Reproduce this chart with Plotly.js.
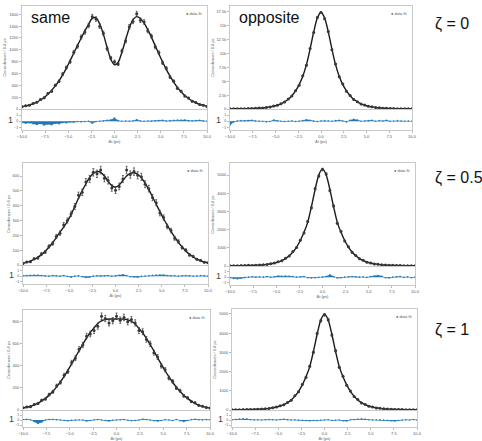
<!DOCTYPE html>
<html><head><meta charset="utf-8">
<script src="https://cdn.plot.ly/plotly-3.0.1.min.js"></script>
<style>html,body{margin:0;padding:0;background:#fff}#chart{width:482px;height:441px}</style>
</head><body><div id="chart"></div>
<script>
// time delay grid (ps)
const dt = [-10,-9.6,-9.2,-8.8,-8.4,-8,-7.6,-7.2,-6.8,-6.4,-6,-5.6,-5.2,-4.8,-4.4,-4,-3.6,-3.2,-2.8,-2.4,-2,-1.6,-1.2,-0.8,-0.4,0,0.4,0.8,1.2,1.6,2,2.4,2.8,3.2,3.6,4,4.4,4.8,5.2,5.6,6,6.4,6.8,7.2,7.6,8,8.4,8.8,9.2,9.6,10];

// zeta = 0, same
const sameZ0Fit  = [40,52,68,90,118,152,195,250,315,390,475,575,690,815,945,1075,1200,1320,1430,1535,1540,1440,1260,1040,840,745,790,960,1170,1370,1510,1560,1530,1450,1340,1210,1070,930,795,670,555,455,365,290,228,178,138,105,80,60,45];
const sameZ0Data = [38,55,64,95,112,160,188,262,300,400,468,590,700,800,960,1060,1215,1300,1410,1560,1520,1400,1280,1020,860,800,760,980,1150,1390,1480,1610,1500,1470,1320,1230,1050,950,780,690,540,470,350,300,220,185,130,110,75,65,42];
const sameZ0Res  = [-0.2,-0.3,-0.25,-0.4,-0.5,-0.35,-0.6,-0.45,-0.55,-0.3,-0.4,-0.2,-0.25,-0.1,-0.15,-0.05,-0.1,-0.05,0,-0.3,-0.05,0,0.05,0.15,0.2,0.5,0.1,0,0.05,0,0.05,0.25,0.05,0,0.05,0,0.05,0.1,0.15,0.05,0.1,0.15,0.2,0.15,0.2,0.1,0.05,0.1,0.15,0.05,0];

// zeta = 0, opposite
const oppZ0Fit  = [30,36,42,50,60,75,95,120,160,210,280,380,500,680,930,1280,1750,2400,3250,4400,5900,8000,10800,13900,16400,17500,16400,13900,10800,8000,5900,4400,3250,2400,1750,1280,930,680,500,380,280,210,160,120,95,75,60,50,42,36,30];
const oppZ0Data = [35,30,48,45,65,70,100,115,170,200,290,370,520,660,950,1250,1800,2350,3300,4300,6000,7900,10900,13800,16500,17400,16300,14000,10700,8100,5800,4500,3200,2450,1700,1300,900,700,480,390,270,220,150,125,90,80,55,52,40,38,28];
const oppZ0Res  = [-0.6,-0.1,0.05,0.1,0.05,0.1,0.15,0.05,0,-0.05,-0.1,-0.05,0.2,0.05,0,-0.05,0,0.05,-0.05,0,0.1,0.25,0.15,0,-0.05,0.05,0.1,0.05,0,0.1,0.15,0.05,-0.1,0.15,0.3,0.2,0,0.05,0.1,0.15,0,0.1,0.05,0.15,0,0.05,0.1,0.05,0,0.05,0];

// zeta = 0.5, same
const sameZ05Fit  = [12,18,26,38,52,70,93,120,150,185,222,255,295,340,395,450,500,548,590,618,630,625,600,565,535,525,540,570,600,618,622,612,588,552,508,460,410,360,312,268,226,188,153,122,95,72,54,40,28,20,14];
const sameZ05Data = [10,20,22,42,48,75,88,125,145,192,215,270,300,345,395,470,490,560,580,625,615,640,585,570,520,505,530,580,640,610,630,605,595,545,515,455,420,350,320,260,232,180,158,118,100,68,58,38,30,18,15];
const sameZ05Res  = [0.05,0.1,0.15,0.2,0.15,0.1,0.05,0,0.1,0.05,0,0.1,-0.05,-0.2,0,0.05,-0.1,-0.25,-0.2,0,0.05,0,0.05,0.1,0,0.05,0.15,0.25,0.1,-0.1,-0.15,-0.2,-0.05,0,0.1,0.15,0.2,0.25,0.2,0.1,0.05,0.1,0,0.05,0.1,0.05,0,0.05,0.1,0.05,0];

// zeta = 0.5, opposite
const oppZ05Fit  = [14,16,18,21,25,30,36,44,55,70,92,122,165,220,300,410,560,770,1040,1400,1850,2400,3250,4200,5000,5350,5000,4200,3250,2400,1850,1400,1040,770,560,410,300,220,165,122,92,70,55,44,36,30,25,21,18,16,14];
const oppZ05Data = [18,12,20,25,22,35,30,48,50,75,88,130,160,230,290,420,550,790,1020,1420,1820,2450,3200,4250,4950,5300,5050,4150,3300,2350,1900,1380,1060,750,580,400,310,210,170,115,95,65,58,38,36,25,27,19,20,14,15];
const oppZ05Res  = [-0.1,-0.25,-0.3,-0.2,-0.05,0,0.05,0,0.05,0,0.1,0,0.05,0.2,0.15,0.2,0.15,0.1,0,0.05,0.1,-0.1,-0.15,-0.1,-0.05,0,0.1,0.4,0.05,-0.15,-0.1,0,0.05,0.1,0.05,0,0.05,-0.05,0.1,0.2,0.3,0.15,-0.1,-0.15,0,0.05,0.1,-0.05,0.05,-0.1,0];

// zeta = 1, same
const sameZ1Fit  = [18,25,34,46,62,82,106,135,170,210,255,305,360,418,478,538,598,655,705,745,785,808,820,825,826,826,826,824,818,805,780,740,700,650,594,535,474,414,356,302,252,207,168,134,105,81,61,45,33,24,17];
const sameZ1Data = [20,28,30,50,58,88,100,140,165,220,250,315,350,430,470,550,590,670,690,720,760,850,830,790,810,850,815,840,800,820,790,720,710,640,600,520,480,400,365,290,260,200,175,128,110,76,65,42,35,22,18];
const sameZ1Res  = [0.1,0.15,0.05,-0.3,-0.7,-0.4,0,0.1,0.15,0.05,0,-0.1,-0.15,-0.05,0,0.05,0,-0.2,-0.1,0.05,0.1,0,-0.1,-0.2,-0.05,0,0.05,0.1,-0.05,-0.15,-0.1,0,0.15,0.1,0,-0.15,-0.2,-0.1,0.05,0,-0.1,0.1,-0.15,-0.3,-0.1,0.1,0.15,0.05,0,0.1,0.05];

// zeta = 1, opposite
const oppZ1Fit  = [13,15,17,20,23,28,34,41,51,65,86,114,154,206,280,383,523,720,972,1310,1730,2245,3040,3930,4680,5000,4680,3930,3040,2245,1730,1310,972,720,523,383,280,206,154,114,86,65,51,41,34,28,23,20,17,15,13];
const oppZ1Data = [10,18,15,22,20,30,32,45,48,70,80,120,150,215,270,390,510,740,950,1330,1700,2280,3000,3980,4650,4950,4700,3900,3080,2220,1750,1290,990,700,540,370,290,200,160,110,90,60,55,38,30,30,20,18,15,16,12];
const oppZ1Res  = [0.05,0.1,0.2,0.25,0.2,0.05,0,0.05,0,0.05,0.1,0.05,0,0.1,0.15,0.05,0,0.05,0,-0.05,-0.1,-0.15,-0.1,-0.15,-0.05,0,0.05,-0.1,-0.05,0,-0.15,-0.2,0.05,0.1,0.2,0.25,0.15,0.05,0,0.05,0.05,0,-0.05,-0.15,-0.2,-0.1,0,0.05,0,0.1,0];

const columnLabels = ["same", "opposite"];
const zetaLabels = ["ζ = 0", "ζ = 0.5", "ζ = 1"];
const xTickVals = [-10, -7.5, -5, -2.5, 0, 2.5, 5, 7.5, 10];
const resTickVals = [-1, 0, 1];
const legendText = "● data fit";
const yTitle = "Coincidences / 0.4 ps";
const xTitle = "Δt (ps)";

// layout (pixel boxes: left, right, mainTop, mainBottom, resTop, resBottom)
const panels = [
  {fit: sameZ0Fit,  data: sameZ0Data,  res: sameZ0Res,  box: [22, 207, 6, 109, 110, 130],  yMax: 1740,  dtick: 200},
  {fit: oppZ0Fit,   data: oppZ0Data,   res: oppZ0Res,   box: [230, 412, 6, 109, 110, 130], yMax: 18580, dtick: 2500},
  {fit: sameZ05Fit, data: sameZ05Data, res: sameZ05Res, box: [23, 208, 163, 265, 266, 284], yMax: 688, dtick: 100},
  {fit: oppZ05Fit,  data: oppZ05Data,  res: oppZ05Res,  box: [230, 415, 163, 266, 267, 285], yMax: 5660, dtick: 1000},
  {fit: sameZ1Fit,  data: sameZ1Data,  res: sameZ1Res,  box: [23, 210, 310, 410, 411, 427], yMax: 907, dtick: 200},
  {fit: oppZ1Fit,   data: oppZ1Data,   res: oppZ1Res,   box: [232, 417, 309, 410, 411, 427], yMax: 5255, dtick: 1000}
];

const W = 482, H = 441;
const fx = p => p / W;
const fy = p => 1 - p / H;
const FONT = "Liberation Sans, Arial, sans-serif";
const tickFont = {size: 4, color: "#555", family: FONT};
const frameColor = "#c9c9c9";

const traces = [];
const layout = {
  width: W, height: H, autosize: false,
  margin: {l: 0, r: 0, t: 0, b: 0},
  paper_bgcolor: "#fff", plot_bgcolor: "#fff",
  showlegend: false,
  font: {family: FONT},
  annotations: []
};

panels.forEach((p, i) => {
  const n1 = 2 * i + 1, n2 = 2 * i + 2;
  const xa1 = n1 === 1 ? "x" : "x" + n1, ya1 = n1 === 1 ? "y" : "y" + n1;
  const xa2 = "x" + n2, ya2 = "y" + n2;
  const [L, R, mt, mb, rt, rb] = p.box;

  traces.push({
    x: dt, y: p.fit, type: "scatter", mode: "lines",
    line: {color: "#1a1a1a", width: 1.4, shape: "spline", smoothing: 0.8},
    xaxis: xa1, yaxis: ya1, hoverinfo: "skip"
  });
  traces.push({
    x: dt, y: p.data, type: "scatter", mode: "markers",
    marker: {size: 3, color: "#383838"},
    error_y: {type: "sqrt", visible: true, color: "#383838", thickness: 0.7, width: 1},
    xaxis: xa1, yaxis: ya1
  });
  traces.push({
    x: dt, y: p.res, type: "scatter", mode: "lines+markers",
    fill: "tozeroy", fillcolor: "#1f77b4",
    line: {color: "#1f77b4", width: 0.6},
    marker: {size: 1.6, color: "#1f77b4"},
    xaxis: xa2, yaxis: ya2
  });

  const common = {showline: true, mirror: true, linecolor: frameColor, linewidth: 1, showgrid: false, zeroline: false};

  layout[n1 === 1 ? "xaxis" : "xaxis" + n1] = Object.assign({}, common, {
    domain: [fx(L), fx(R)], anchor: ya1, range: [-10, 10], showticklabels: false, ticks: ""
  });
  layout[n1 === 1 ? "yaxis" : "yaxis" + n1] = Object.assign({}, common, {
    domain: [fy(mb), fy(mt)], anchor: xa1, range: [0, p.yMax], tick0: 0, dtick: p.dtick,
    ticks: "outside", ticklen: 2, tickcolor: "#bbb", tickfont: tickFont,
    title: {text: yTitle, font: {size: 4, color: "#555", family: FONT}, standoff: 2}
  });
  layout["xaxis" + n2] = Object.assign({}, common, {
    domain: [fx(L), fx(R)], anchor: ya2, range: [-10, 10], tickvals: xTickVals, tickformat: ".1f",
    ticks: "outside", ticklen: 2, tickcolor: "#bbb", tickfont: tickFont,
    title: {text: xTitle, font: {size: 4, color: "#555", family: FONT}, standoff: 1}
  });
  layout["yaxis" + n2] = Object.assign({}, common, {
    domain: [fy(rb), fy(rt)], anchor: xa2, range: [-1.4, 1.8], tickvals: resTickVals,
    ticks: "outside", ticklen: 2, tickcolor: "#bbb", tickfont: {size: 3.5, color: "#555", family: FONT}
  });

  layout.annotations.push({
    xref: "paper", yref: "paper", x: fx(R - 3), y: fy(mt + 3), xanchor: "right", yanchor: "top",
    text: legendText, showarrow: false, font: {size: 4, color: "#555", family: FONT}
  });
  layout.annotations.push({
    xref: "paper", yref: "paper", x: fx(L - 12), y: fy((rt + rb) / 2), xanchor: "center", yanchor: "middle",
    text: "1", showarrow: false, font: {size: 9, color: "#444", family: FONT}
  });
});

// column labels
layout.annotations.push({xref: "paper", yref: "paper", x: fx(29), y: fy(17), xanchor: "left", yanchor: "middle",
  text: columnLabels[0], showarrow: false, font: {size: 16, color: "#111", family: FONT}});
layout.annotations.push({xref: "paper", yref: "paper", x: fx(237), y: fy(17), xanchor: "left", yanchor: "middle",
  text: columnLabels[1], showarrow: false, font: {size: 16, color: "#111", family: FONT}});
// zeta labels
const zetaY = [24, 178, 330];
zetaLabels.forEach((t, i) => {
  layout.annotations.push({xref: "paper", yref: "paper", x: fx(433), y: fy(zetaY[i]), xanchor: "left", yanchor: "middle",
    text: t, showarrow: false, font: {size: 16, color: "#111", family: FONT}});
});

Plotly.newPlot("chart", traces, layout, {staticPlot: true, displayModeBar: false});
</script>
</body></html>
